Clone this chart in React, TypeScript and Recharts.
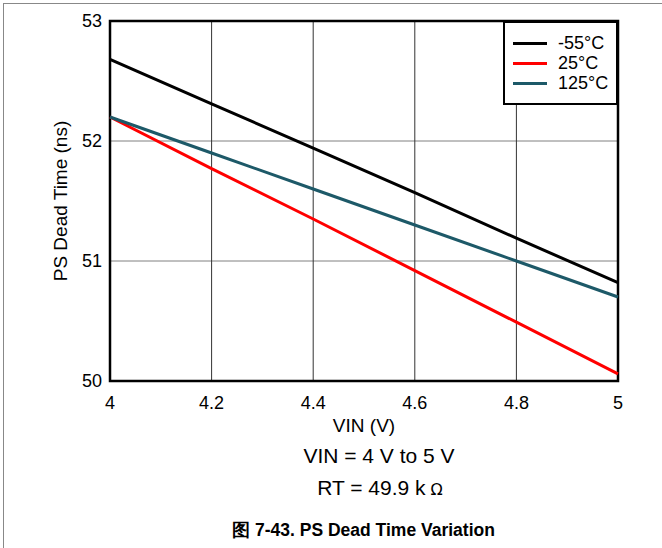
import { LineChart, Line, XAxis, YAxis, CartesianGrid, Legend, ReferenceArea } from "recharts";

const VIN = [4, 4.2, 4.4, 4.6, 4.8, 5];
const T_M55 = [52.68, 52.31, 51.94, 51.57, 51.19, 50.82];
const T_25 = [52.2, 51.77, 51.35, 50.92, 50.49, 50.06];
const T_125 = [52.2, 51.9, 51.6, 51.3, 51.0, 50.7];

const X_TICKS = [4, 4.2, 4.4, 4.6, 4.8, 5];
const Y_TICKS = [50, 51, 52, 53];

const SERIES = [
  { key: "m55", name: "-55°C", color: "#000000" },
  { key: "t25", name: "25°C", color: "#ff0000" },
  { key: "t125", name: "125°C", color: "#1d5968" },
];

const data = VIN.map((v, i) => ({ vin: v, m55: T_M55[i], t25: T_25[i], t125: T_125[i] }));

const FONT = "'Liberation Sans', Arial, sans-serif";

function LegendBox() {
  return (
    <div
      style={{
        width: 115,
        height: 84,
        border: "2px solid #000",
        background: "#fff",
        boxSizing: "border-box",
        paddingTop: 10,
      }}
    >
      {SERIES.map((s) => (
        <div key={s.key} style={{ display: "flex", alignItems: "center", height: 20, fontSize: 18, fontFamily: FONT, color: "#000" }}>
          <span style={{ display: "inline-block", width: 34, height: 3, background: s.color, marginLeft: 8, marginRight: 11 }} />
          <span>{s.name}</span>
        </div>
      ))}
    </div>
  );
}

export default function App() {
  return (
    <div style={{ position: "absolute", left: 0, top: 0, width: 662, height: 548, background: "#fff", fontFamily: FONT, overflow: "hidden" }}>
      <div style={{ position: "absolute", left: 3, top: 3, width: 700, height: 600, border: "1px solid #888" }} />
      <div style={{ position: "absolute", left: 0, top: 0 }}>
        <LineChart width={662} height={548} data={data} margin={{ top: 21, right: 44, bottom: 127, left: 50 }}>
          <CartesianGrid horizontal={true} vertical={false} stroke="#808080" strokeWidth={1} />
          <CartesianGrid horizontal={false} vertical={true} stroke="#333" strokeWidth={1} />
          <XAxis
            dataKey="vin"
            type="number"
            domain={[4, 5]}
            ticks={X_TICKS}
            height={40}
            axisLine={false}
            tickLine={false}
            tickMargin={9}
            tick={{ fontSize: 18, fill: "#000", fontFamily: FONT }}
            label={{
              content: ({ viewBox }: any) => (
                <text x={viewBox.x + viewBox.width / 2} y={viewBox.y + 51} textAnchor="middle" fontSize={19} fontFamily={FONT} fill="#000">
                  VIN (V)
                </text>
              ),
            }}
          />
          <YAxis
            type="number"
            domain={[50, 53]}
            ticks={Y_TICKS}
            width={60}
            axisLine={false}
            tickLine={false}
            tick={{ fontSize: 18, fill: "#000", fontFamily: FONT }}
            label={{
              content: ({ viewBox }: any) => {
                const cx = viewBox.x + 10;
                const cy = viewBox.y + viewBox.height / 2;
                return (
                  <text x={cx} y={cy} transform={`rotate(-90 ${cx} ${cy})`} textAnchor="middle" dominantBaseline="central" fontSize={19} fontFamily={FONT} fill="#000">
                    PS Dead Time (ns)
                  </text>
                );
              },
            }}
          />
          <ReferenceArea x1={4} x2={5} y1={50} y2={53} fill="none" fillOpacity={0} stroke="#000" strokeWidth={2.5} ifOverflow="visible" />
          {SERIES.map((s) => (
            <Line key={s.key} dataKey={s.key} name={s.name} stroke={s.color} strokeWidth={3} dot={false} isAnimationActive={false} />
          ))}
          <Legend
            verticalAlign="middle"
            align="center"
            layout="horizontal"
            wrapperStyle={{ top: 21, right: 44, left: "auto", width: 115 }}
            content={() => <LegendBox />}
          />
        </LineChart>
      </div>
      <div style={{ position: "absolute", left: 0, width: 758, top: 444, textAlign: "center", fontSize: 21 }}>VIN = 4 V to 5 V</div>
      <div style={{ position: "absolute", left: 0, width: 760, top: 476, textAlign: "center", fontSize: 21 }}>
        RT = 49.9 k<span style={{ fontSize: 16, fontFamily: "'DejaVu Sans', sans-serif", marginLeft: 5 }}>Ω</span>
      </div>
      <div style={{ position: "absolute", left: 0, width: 727, top: 518, textAlign: "center", fontSize: 17.5, fontWeight: "bold" }}>
        图 7-43. PS Dead Time Variation
      </div>
    </div>
  );
}
